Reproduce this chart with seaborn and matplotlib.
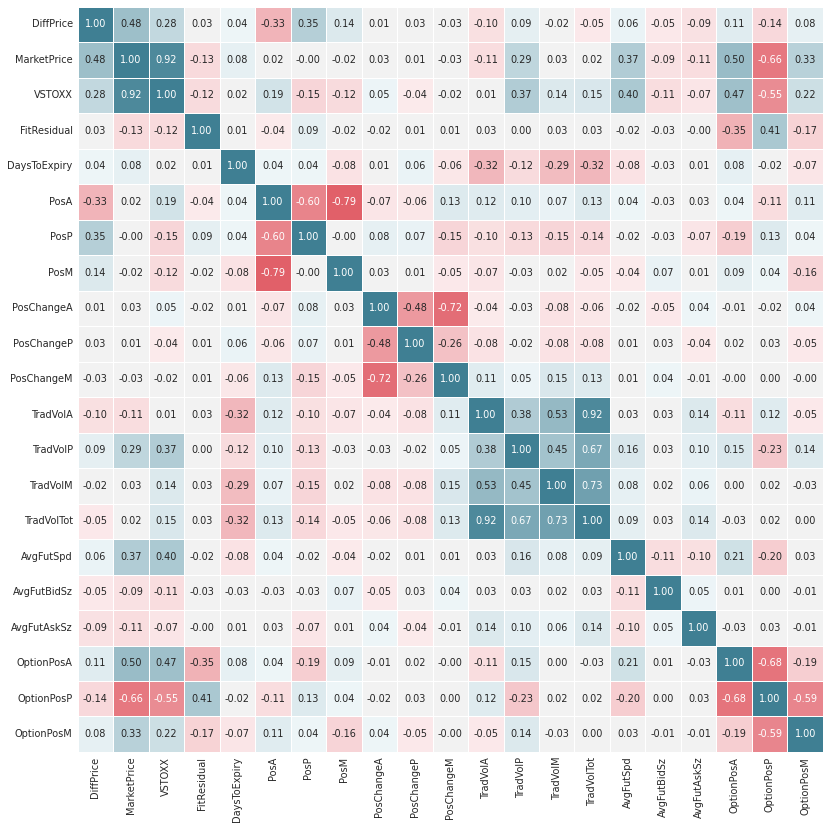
import colorsys
import pandas as pd
import matplotlib
matplotlib.use("Agg")
import matplotlib.pyplot as plt
from matplotlib.colors import LinearSegmentedColormap
import numpy as np
import seaborn as sns
from seaborn.external import husl

cols = ['DiffPrice', 'MarketPrice', 'VSTOXX', 'FitResidual', 'DaysToExpiry',
        'PosA', 'PosP', 'PosM', 'PosChangeA', 'PosChangeP', 'PosChangeM',
        'TradVolA', 'TradVolP', 'TradVolM', 'TradVolTot', 'AvgFutSpd',
        'AvgFutBidSz', 'AvgFutAskSz', 'OptionPosA', 'OptionPosP', 'OptionPosM']

# rows of the correlation matrix (-0.001 -> shown as -0.00)
diff_price = [1.00, 0.48, 0.28, 0.03, 0.04, -0.33, 0.35, 0.14, 0.01, 0.03, -0.03, -0.10, 0.09, -0.02, -0.05, 0.06, -0.05, -0.09, 0.11, -0.14, 0.08]
market_price = [0.48, 1.00, 0.92, -0.13, 0.08, 0.02, -0.001, -0.02, 0.03, 0.01, -0.03, -0.11, 0.29, 0.03, 0.02, 0.37, -0.09, -0.11, 0.50, -0.66, 0.33]
vstoxx = [0.28, 0.92, 1.00, -0.12, 0.02, 0.19, -0.15, -0.12, 0.05, -0.04, -0.02, 0.01, 0.37, 0.14, 0.15, 0.40, -0.11, -0.07, 0.47, -0.55, 0.22]
fit_residual = [0.03, -0.13, -0.12, 1.00, 0.01, -0.04, 0.09, -0.02, -0.02, 0.01, 0.01, 0.03, 0.00, 0.03, 0.03, -0.02, -0.03, -0.001, -0.35, 0.41, -0.17]
days_to_expiry = [0.04, 0.08, 0.02, 0.01, 1.00, 0.04, 0.04, -0.08, 0.01, 0.06, -0.06, -0.32, -0.12, -0.29, -0.32, -0.08, -0.03, 0.01, 0.08, -0.02, -0.07]
pos_a = [-0.33, 0.02, 0.19, -0.04, 0.04, 1.00, -0.60, -0.79, -0.07, -0.06, 0.13, 0.12, 0.10, 0.07, 0.13, 0.04, -0.03, 0.03, 0.04, -0.11, 0.11]
pos_p = [0.35, -0.001, -0.15, 0.09, 0.04, -0.60, 1.00, -0.001, 0.08, 0.07, -0.15, -0.10, -0.13, -0.15, -0.14, -0.02, -0.03, -0.07, -0.19, 0.13, 0.04]
pos_m = [0.14, -0.02, -0.12, -0.02, -0.08, -0.79, -0.001, 1.00, 0.03, 0.01, -0.05, -0.07, -0.03, 0.02, -0.05, -0.04, 0.07, 0.01, 0.09, 0.04, -0.16]
pos_change_a = [0.01, 0.03, 0.05, -0.02, 0.01, -0.07, 0.08, 0.03, 1.00, -0.48, -0.72, -0.04, -0.03, -0.08, -0.06, -0.02, -0.05, 0.04, -0.01, -0.02, 0.04]
pos_change_p = [0.03, 0.01, -0.04, 0.01, 0.06, -0.06, 0.07, 0.01, -0.48, 1.00, -0.26, -0.08, -0.02, -0.08, -0.08, 0.01, 0.03, -0.04, 0.02, 0.03, -0.05]
pos_change_m = [-0.03, -0.03, -0.02, 0.01, -0.06, 0.13, -0.15, -0.05, -0.72, -0.26, 1.00, 0.11, 0.05, 0.15, 0.13, 0.01, 0.04, -0.01, -0.001, 0.00, -0.001]
trad_vol_a = [-0.10, -0.11, 0.01, 0.03, -0.32, 0.12, -0.10, -0.07, -0.04, -0.08, 0.11, 1.00, 0.38, 0.53, 0.92, 0.03, 0.03, 0.14, -0.11, 0.12, -0.05]
trad_vol_p = [0.09, 0.29, 0.37, 0.00, -0.12, 0.10, -0.13, -0.03, -0.03, -0.02, 0.05, 0.38, 1.00, 0.45, 0.67, 0.16, 0.03, 0.10, 0.15, -0.23, 0.14]
trad_vol_m = [-0.02, 0.03, 0.14, 0.03, -0.29, 0.07, -0.15, 0.02, -0.08, -0.08, 0.15, 0.53, 0.45, 1.00, 0.73, 0.08, 0.02, 0.06, 0.00, 0.02, -0.03]
trad_vol_tot = [-0.05, 0.02, 0.15, 0.03, -0.32, 0.13, -0.14, -0.05, -0.06, -0.08, 0.13, 0.92, 0.67, 0.73, 1.00, 0.09, 0.03, 0.14, -0.03, 0.02, 0.00]
avg_fut_spd = [0.06, 0.37, 0.40, -0.02, -0.08, 0.04, -0.02, -0.04, -0.02, 0.01, 0.01, 0.03, 0.16, 0.08, 0.09, 1.00, -0.11, -0.10, 0.21, -0.20, 0.03]
avg_fut_bid_sz = [-0.05, -0.09, -0.11, -0.03, -0.03, -0.03, -0.03, 0.07, -0.05, 0.03, 0.04, 0.03, 0.03, 0.02, 0.03, -0.11, 1.00, 0.05, 0.01, 0.00, -0.01]
avg_fut_ask_sz = [-0.09, -0.11, -0.07, -0.001, 0.01, 0.03, -0.07, 0.01, 0.04, -0.04, -0.01, 0.14, 0.10, 0.06, 0.14, -0.10, 0.05, 1.00, -0.03, 0.03, -0.01]
option_pos_a = [0.11, 0.50, 0.47, -0.35, 0.08, 0.04, -0.19, 0.09, -0.01, 0.02, -0.001, -0.11, 0.15, 0.00, -0.03, 0.21, 0.01, -0.03, 1.00, -0.68, -0.19]
option_pos_p = [-0.14, -0.66, -0.55, 0.41, -0.02, -0.11, 0.13, 0.04, -0.02, 0.03, 0.00, 0.12, -0.23, 0.02, 0.02, -0.20, 0.00, 0.03, -0.68, 1.00, -0.59]
option_pos_m = [0.08, 0.33, 0.22, -0.17, -0.07, 0.11, 0.04, -0.16, 0.04, -0.05, -0.001, -0.05, 0.14, -0.03, 0.00, 0.03, -0.01, -0.01, -0.19, -0.59, 1.00]

rows = [diff_price, market_price, vstoxx, fit_residual, days_to_expiry,
        pos_a, pos_p, pos_m, pos_change_a, pos_change_p, pos_change_m,
        trad_vol_a, trad_vol_p, trad_vol_m, trad_vol_tot, avg_fut_spd,
        avg_fut_bid_sz, avg_fut_ask_sz, option_pos_a, option_pos_p, option_pos_m]

corr = pd.DataFrame(rows, index=cols, columns=cols)


def old_diverging(h_neg, h_pos, s=75, l=50, sep=10, n=256):
    # the way older seaborn built diverging_palette: tinted light ends + gray middle
    def ramp(h, k, reverse=False):
        c = husl.husl_to_rgb(h, s, l)
        hh, _, ss = colorsys.rgb_to_hls(*c)
        light = colorsys.hls_to_rgb(hh, .95, ss)
        t = np.linspace(0, 1, k)[:, None]
        out = np.array(light) * (1 - t) + np.array(c) * t
        return out[::-1] if reverse else out
    neg = ramp(h_neg, 128 - sep // 2, reverse=True)
    pos = ramp(h_pos, 128 - sep // 2)
    mid = np.array([[.95, .95, .95]] * sep)
    colors = np.concatenate([neg, mid, pos])
    return LinearSegmentedColormap.from_list("div", colors, N=n)


sns.set_style("white")
fig = plt.figure(figsize=(8.3, 8.3), dpi=100)
ax = fig.add_axes([0.093, 0.094, 0.899, 0.898])

cmap = old_diverging(10, 220)
sns.heatmap(corr, cmap=cmap, vmin=-1, vmax=1, center=0, annot=True, fmt=".2f",
            annot_kws={"size": 7}, linewidths=0.5, linecolor="white",
            cbar=False, square=True, ax=ax)
ax.tick_params(length=0, labelsize=7)
plt.setp(ax.get_xticklabels(), rotation=90)
plt.setp(ax.get_yticklabels(), rotation=0)

fig.savefig("out.png", dpi=100)
